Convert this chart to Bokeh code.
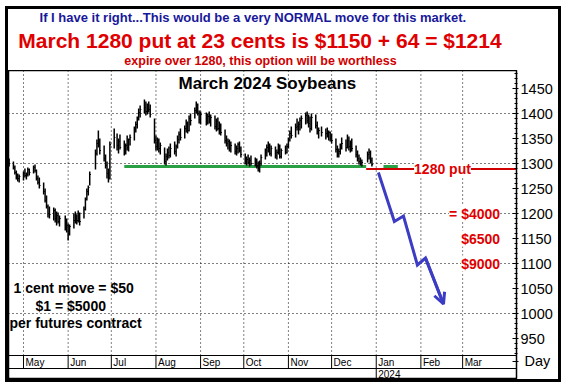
import pandas as pd
from bokeh.plotting import figure
from bokeh.models import Range1d, FixedTicker, Label, Arrow, OpenHead, Spacer
from bokeh.layouts import column, row
from bokeh.embed import file_html
from bokeh.resources import INLINE

FONT = "Liberation Sans"

# ---------------- data ----------------
holidays = ["2023-05-29", "2023-06-19", "2023-07-04", "2023-09-04", "2023-11-23", "2023-12-25"]
first_day, last_day = "2023-04-21", "2023-12-29"

high = [
    1310, 1304, 1296, 1286, 1280, 1278,
    1284, 1290, 1282, 1292, 1290,
    1296, 1298, 1288, 1276, 1272,
    1262, 1250, 1236, 1218, 1214,
    1212, 1210, 1204, 1202, 1196,
    1196, 1190, 1180, 1178,
    1200, 1204, 1198, 1206, 1202,
    1214, 1232, 1250, 1256, 1284,
    1328, 1348, 1366, 1350,
    1336, 1318, 1304, 1290, 1344,
    1370, 1360, 1350, 1358,
    1346, 1340, 1356, 1350, 1358,
    1374, 1384, 1394, 1410, 1416,
    1428, 1424, 1420, 1424, 1418,
    1390, 1356, 1352, 1350, 1342,
    1332, 1320, 1330, 1334, 1340,
    1344, 1338, 1356, 1364, 1370,
    1376, 1388, 1384, 1396, 1400,
    1412, 1424, 1420, 1406, 1404,
    1402, 1400, 1404, 1398,
    1396, 1390, 1392, 1384, 1380,
    1368, 1356, 1350, 1348, 1344,
    1340, 1336, 1342, 1344, 1334,
    1320, 1314, 1318, 1312, 1316,
    1312, 1310, 1304, 1306, 1318,
    1330, 1338, 1344, 1340, 1336,
    1334, 1328, 1340, 1338, 1330,
    1336, 1340, 1352, 1366, 1374,
    1380, 1390, 1384, 1392, 1396,
    1402, 1404, 1398, 1394, 1400,
    1398, 1384, 1372, 1374,
    1370, 1372, 1366, 1364, 1360,
    1350, 1336, 1330, 1340, 1352,
    1348, 1358, 1354, 1346, 1350,
    1336, 1326, 1318, 1312, 1308,
    1324, 1330, 1326, 1312,
]
low = [
    1294, 1288, 1278, 1268, 1264, 1262,
    1266, 1272, 1268, 1274, 1276,
    1280, 1282, 1266, 1258, 1250,
    1238, 1222, 1210, 1192, 1190,
    1186, 1182, 1176, 1180, 1174,
    1166, 1162, 1146, 1156,
    1170, 1180, 1178, 1182, 1176,
    1190, 1206, 1226, 1236, 1256,
    1288, 1316, 1332, 1318,
    1304, 1290, 1270, 1262, 1268,
    1330, 1326, 1320, 1328,
    1316, 1318, 1326, 1324, 1336,
    1346, 1362, 1370, 1386, 1392,
    1400, 1396, 1398, 1402, 1392,
    1340, 1326, 1326, 1322, 1318,
    1298, 1296, 1306, 1310, 1312,
    1318, 1314, 1330, 1340, 1346,
    1350, 1362, 1360, 1364, 1376,
    1390, 1400, 1396, 1380, 1378,
    1376, 1378, 1380, 1374,
    1368, 1364, 1366, 1358, 1356,
    1340, 1334, 1328, 1324, 1322,
    1318, 1316, 1320, 1322, 1312,
    1298, 1296, 1298, 1294, 1296,
    1294, 1290, 1284, 1282, 1296,
    1308, 1314, 1322, 1316, 1314,
    1310, 1308, 1318, 1310, 1310,
    1318, 1320, 1330, 1344, 1350,
    1352, 1366, 1358, 1366, 1370,
    1378, 1380, 1372, 1362, 1366,
    1370, 1358, 1350, 1354,
    1348, 1352, 1346, 1344, 1340,
    1322, 1312, 1312, 1318, 1328,
    1324, 1330, 1326, 1322, 1324,
    1312, 1304, 1298, 1296, 1294,
    1302, 1308, 1300, 1294,
]
close = [
    1300, 1292, 1282, 1272, 1270, 1274,
    1280, 1276, 1278, 1288, 1282,
    1292, 1286, 1270, 1262, 1256,
    1244, 1226, 1214, 1200, 1198,
    1206, 1190, 1196, 1184, 1190,
    1170, 1176, 1160, 1174,
    1186, 1198, 1186, 1200, 1184,
    1208, 1228, 1244, 1252, 1278,
    1320, 1340, 1344, 1326,
    1310, 1296, 1280, 1270, 1338,
    1352, 1336, 1344, 1332,
    1324, 1336, 1332, 1348, 1352,
    1368, 1378, 1390, 1402, 1408,
    1412, 1404, 1416, 1408, 1398,
    1346, 1334, 1346, 1330, 1336,
    1304, 1314, 1322, 1316, 1330,
    1324, 1334, 1348, 1358, 1352,
    1370, 1380, 1366, 1390, 1386,
    1406, 1414, 1400, 1388, 1398,
    1382, 1394, 1388, 1392,
    1374, 1384, 1370, 1378, 1362,
    1346, 1340, 1344, 1330, 1336,
    1324, 1330, 1338, 1326, 1318,
    1304, 1308, 1302, 1306, 1300,
    1304, 1296, 1290, 1300, 1312,
    1322, 1332, 1336, 1320, 1330,
    1316, 1322, 1334, 1314, 1326,
    1322, 1334, 1348, 1360, 1356,
    1372, 1374, 1378, 1386, 1390,
    1396, 1386, 1380, 1370, 1392,
    1376, 1364, 1366, 1362,
    1360, 1356, 1362, 1350, 1346,
    1328, 1318, 1324, 1334, 1340,
    1332, 1346, 1334, 1340, 1330,
    1318, 1310, 1304, 1300, 1302,
    1318, 1322, 1306, 1298,
]

month_starts = ["2023-05-01", "2023-06-01", "2023-07-01", "2023-08-01", "2023-09-01", "2023-10-01",
                "2023-11-01", "2023-12-01", "2024-01-01", "2024-02-01", "2024-03-01"]
month_labels = ["May", "Jun", "Jul", "Aug", "Sep", "Oct", "Nov", "Dec", "Jan", "Feb", "Mar"]
year_start, year_label = "2024-01-01", "2024"

grid_levels = [1000, 1100, 1200, 1300, 1400]
y_ticks = [950, 1000, 1050, 1100, 1150, 1200, 1250, 1300, 1350, 1400, 1450]
y_minor = list(range(920, 1490, 10))
day_tick, day_text = 905, "\u00a0Day"

support_level = 1294
support_segments = [("2023-07-10", "2023-12-25"), ("2024-01-06", "2024-01-16")]
put_level = 1289
put_start = "2023-12-25"

proj_dates = ["2024-01-02 12:00", "2024-01-13 14:00", "2024-01-19 22:00",
              "2024-01-29 14:00", "2024-02-04 05:00", "2024-02-16 17:00"]
proj_prices = [1282, 1184, 1195, 1097, 1111, 1019]

money_labels = ["= $4000", "$6500", "$9000"]
money_levels = [1200, 1150, 1100]

# ---------------- helpers ----------------
def ms(d):
    return pd.Timestamp(d).value / 1e6

def block(w, h, color):
    return Spacer(width=w, height=h, margin=0, styles={"background-color": color})

days = pd.bdate_range(first_day, last_day)
days = days[~days.isin(pd.to_datetime(holidays))]
n = min(len(days), len(high), len(low), len(close))
days = days[:n]
tick_len = pd.Timedelta(hours=20)

x_start = pd.Timestamp("2023-04-20 14:00")
x_end = pd.Timestamp("2024-04-07 10:00")
Y_TOP, Y_BOT = 1486, 868
ROW1_TOP, ROW2_TOP = 916, 890

W_IN, H_HEAD, H_CHART = 550, 61, 309

# ---------------- header ----------------
header = figure(width=W_IN, height=H_HEAD, x_range=Range1d(0, W_IN), y_range=Range1d(0, H_HEAD),
                toolbar_location=None, output_backend="svg", frame_align=False,
                x_axis_location=None, y_axis_location=None,
                min_border_left=0, min_border_right=0, min_border_top=0, min_border_bottom=0)
header.grid.visible = False
header.outline_line_color = None
header.background_fill_color = "white"
header.border_fill_color = "white"
header_lines = [
    ("If I have it right...This would be a very NORMAL move for this market.", 244.5, 53, "13px", "#18189a"),
    ("March 1280 put at 23 cents is $1150 + 64 = $1214", 251.5, 30, "21px", "#e00000"),
    ("expire over 1280, this option will be worthless", 252, 9.5, "12.5px", "#d00000"),
]
for txt, hx, hy, fs, col in header_lines:
    header.add_layout(Label(x=hx, y=hy, text=txt, text_align="center", text_baseline="middle",
                            text_font=FONT, text_font_style="bold", text_font_size=fs, text_color=col))

# ---------------- chart ----------------
p = figure(width=W_IN, height=H_CHART, x_axis_type="datetime",
           x_range=Range1d(x_start, x_end), y_range=Range1d(Y_BOT, Y_TOP),
           x_axis_location=None, y_axis_location="right", frame_align=False,
           toolbar_location=None, output_backend="svg",
           min_border_left=0, min_border_right=42, min_border_top=0, min_border_bottom=0)
p.xgrid.visible = False
p.ygrid.visible = False
p.outline_line_color = "black"
p.outline_line_width = 1.5
p.background_fill_color = "white"
p.border_fill_color = "white"

ax = p.yaxis[0]
ax.ticker = FixedTicker(ticks=y_ticks + [day_tick], minor_ticks=y_minor)
ax.major_label_overrides = {day_tick: day_text}
ax.major_label_text_font = FONT
ax.major_label_text_font_size = "14.5px"
ax.major_label_text_color = "black"
ax.major_label_standoff = 2
ax.major_tick_in = 4
ax.major_tick_out = 2
ax.minor_tick_in = 2
ax.minor_tick_out = 1
ax.axis_line_color = "black"

# dotted grid
p.segment(x0=x_start, x1=x_end, y0=grid_levels, y1=grid_levels,
          line_color="black", line_width=1, line_dash="1 3")
ms_dt = pd.to_datetime(month_starts)
p.segment(x0=ms_dt, x1=ms_dt, y0=ROW1_TOP, y1=Y_TOP,
          line_color="black", line_width=1, line_dash="1 3")

# date panel below the price area
p.segment(x0=x_start, x1=x_end, y0=[ROW1_TOP, ROW2_TOP], y1=[ROW1_TOP, ROW2_TOP],
          line_color="black", line_width=1)
p.segment(x0=ms_dt, x1=ms_dt, y0=ROW2_TOP, y1=ROW1_TOP, line_color="black", line_width=1)
p.segment(x0=[pd.Timestamp(year_start)], x1=[pd.Timestamp(year_start)], y0=Y_BOT, y1=ROW2_TOP,
          line_color="black", line_width=1)
p.text(x=ms_dt, y=(ROW1_TOP + ROW2_TOP) / 2, text=month_labels, x_offset=2,
       text_baseline="middle", text_font_size="10px", text_color="black")
p.text(x=[pd.Timestamp(year_start)], y=(ROW2_TOP + Y_BOT) / 2, text=[year_label], x_offset=2,
       text_baseline="middle", text_font_size="10px", text_color="black")

# support lines
for s0, s1 in support_segments:
    p.segment(x0=[pd.Timestamp(s0)], x1=[pd.Timestamp(s1)], y0=support_level, y1=support_level,
              line_color="#2aa044", line_width=3)

# price bars
p.segment(x0=days, x1=days, y0=low, y1=high, line_color="black", line_width=1.5)
p.segment(x0=days, x1=days + tick_len, y0=close, y1=close, line_color="black", line_width=1.2)

# put strike line
p.segment(x0=[pd.Timestamp(put_start)], x1=[x_end], y0=put_level, y1=put_level,
          line_color="#d00000", line_width=2)
p.add_layout(Label(x=ms("2024-02-16"), y=put_level, text="1280 put", text_align="center",
                   text_baseline="middle", text_font=FONT, text_font_style="bold",
                   text_font_size="14px", text_color="#e00000", background_fill_color="white"))

# projected move
pd_dt = pd.to_datetime(proj_dates)
p.line(x=pd_dt, y=proj_prices, line_color="#3c3cc4", line_width=3, line_join="miter")
p.add_layout(Arrow(end=OpenHead(size=11, line_color="#3c3cc4", line_width=3),
                   x_start=ms(pd_dt[-2]), y_start=proj_prices[-2],
                   x_end=ms(pd_dt[-1]), y_end=proj_prices[-1],
                   line_color="#3c3cc4", line_width=3))

for txt, lvl in zip(money_labels, money_levels):
    p.add_layout(Label(x=ms("2024-03-27"), y=lvl, text=txt, text_align="right",
                       text_baseline="middle", text_font=FONT, text_font_style="bold",
                       text_font_size="14px", text_color="#e00000", background_fill_color="white"))

# title and notes
p.add_layout(Label(x=ms("2023-10-17 10:00"), y=1460, text="March 2024 Soybeans", text_align="center",
                   text_baseline="middle", text_font=FONT, text_font_style="bold",
                   text_font_size="17px", text_color="black"))
notes = [("1 cent move = $50", "2023-04-24 02:00", 1052),
         ("$1 = $5000", "2023-05-09 08:00", 1016),
         ("per futures contract", "2023-04-21 06:00", 982)]
for txt, d, lvl in notes:
    p.add_layout(Label(x=ms(d), y=lvl, text=txt, text_baseline="middle", text_font=FONT,
                       text_font_style="bold", text_font_size="14px", text_color="black"))

# ---------------- frame / layout ----------------
B = 3
inner = column(header, p)
boxed = column(block(W_IN + 2 * B, B, "black"),
               row(block(B, H_HEAD + H_CHART, "black"), inner, block(B, H_HEAD + H_CHART, "black")),
               block(W_IN + 2 * B, B, "black"))
layout = column(block(W_IN + 2 * B + 5, 6, "white"),
                row(block(5, H_HEAD + H_CHART + 2 * B, "white"), boxed))

open("out.html", "w").write(file_html(layout, INLINE))
